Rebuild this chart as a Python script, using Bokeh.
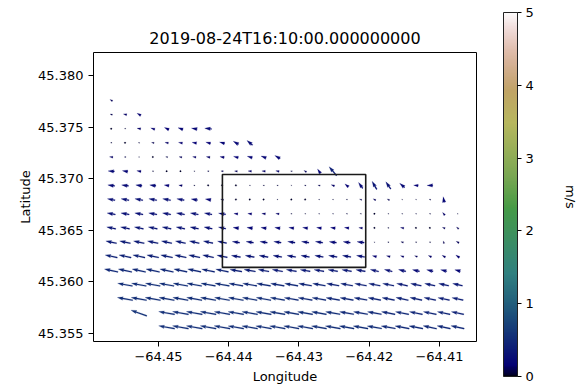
import numpy as np
from bokeh.plotting import figure
from bokeh.models import (Range1d, FixedTicker, CustomJSTickFormatter,
                          LinearColorMapper, ColumnDataSource, ColorBar, LinearAxis)
from bokeh.transform import linear_cmap
from bokeh.embed import file_html
from bokeh.resources import INLINE

FONT = "DejaVu Sans"

# ---------------- data ----------------
title_text = "2019-08-24T16:10:00.000000000"
x_label = "Longitude"
y_label = "Latitude"
cbar_label = "m/s"

x_ticks = [-64.45, -64.44, -64.43, -64.42, -64.41]
y_ticks = [45.355, 45.360, 45.365, 45.370, 45.375, 45.380]
cbar_ticks = [0, 1, 2, 3, 4, 5]
speed_min, speed_max = 0, 5

lons = [-64.45673, -64.45476, -64.45279, -64.45081, -64.44884, -64.44687,
        -64.44490, -64.44293, -64.44095, -64.43898, -64.43701, -64.43504,
        -64.43307, -64.43109, -64.42912, -64.42715, -64.42518, -64.42321,
        -64.42123, -64.41926, -64.41729, -64.41532, -64.41335, -64.41137,
        -64.40940, -64.40743]
lats = [45.37760, 45.37623, 45.37485, 45.37348, 45.37210, 45.37073,
        45.36935, 45.36798, 45.36660, 45.36523, 45.36385, 45.36248,
        45.36110, 45.35973, 45.35835, 45.35698, 45.35560]

# first grid column of each row
first_col = [0, 0, 0, 0, 0, 0, 0, 0, 0, 0, 0, 0, 0, 1, 1, 2, 4]

# current speed (m/s) per row, starting at first_col
speed_rows = [
    [0.10],
    [0.08, 0.12, 0.15],
    [0.03, 0.05, 0.13, 0.15, 0.17, 0.18, 0.20, 0.24],
    [0.05, 0.03, 0.05, 0.09, 0.12, 0.14, 0.16, 0.17, 0.18, 0.21, 0.25],
    [0.12, 0.06, 0.04, 0.03, 0.07, 0.10, 0.12, 0.13, 0.15, 0.17, 0.18, 0.19, 0.21],
    [0.22, 0.19, 0.15, 0.05, 0.03, 0.03, 0.04, 0.06, 0.08, 0.10, 0.12, 0.12,
     0.12, 0.06, 0.10, 0.18, 0.40],
    [0.24, 0.24, 0.22, 0.22, 0.17, 0.12, 0.05, 0.03, 0.02, 0.03, 0.04, 0.05,
     0.05, 0.04, 0.06, 0.08, 0.12, 0.16, 0.25, 0.32, 0.30, 0.22, 0.16, 0.20],
    [0.27, 0.28, 0.28, 0.28, 0.28, 0.26, 0.22, 0.20, 0.10, 0.03, 0.03, 0.03,
     0.04, 0.03, 0.03, 0.04, 0.04, 0.05, 0.08, 0.10, 0.09, 0.04, 0.04, 0.06, 0.20],
    [0.29, 0.29, 0.29, 0.29, 0.29, 0.29, 0.28, 0.27, 0.25, 0.14, 0.14, 0.13,
     0.12, 0.05, 0.04, 0.04, 0.04, 0.05, 0.05, 0.03, 0.04, 0.04, 0.04, 0.05, 0.12, 0.04],
    [0.32, 0.32, 0.32, 0.32, 0.32, 0.31, 0.30, 0.29, 0.26, 0.20, 0.20, 0.19,
     0.19, 0.18, 0.18, 0.17, 0.17, 0.16, 0.13, 0.03, 0.05, 0.12, 0.02, 0.03, 0.10, 0.10],
    [0.38, 0.38, 0.38, 0.38, 0.37, 0.36, 0.35, 0.34, 0.32, 0.26, 0.26, 0.26,
     0.26, 0.26, 0.26, 0.26, 0.25, 0.25, 0.25, 0.04, 0.05, 0.09, 0.05, 0.05, 0.09, 0.11],
    [0.43, 0.43, 0.43, 0.42, 0.42, 0.41, 0.40, 0.39, 0.37, 0.32, 0.32, 0.32,
     0.31, 0.31, 0.30, 0.30, 0.30, 0.30, 0.29, 0.15, 0.13, 0.12, 0.10, 0.12, 0.13, 0.15],
    [0.48, 0.48, 0.48, 0.48, 0.48, 0.47, 0.47, 0.46, 0.45, 0.42, 0.40, 0.38,
     0.37, 0.36, 0.35, 0.35, 0.34, 0.34, 0.33, 0.30, 0.28, 0.26, 0.25, 0.23, 0.22, 0.20],
    [0.52, 0.52, 0.52, 0.52, 0.52, 0.52, 0.51, 0.51, 0.50, 0.50, 0.49, 0.48,
     0.47, 0.46, 0.45, 0.44, 0.43, 0.42, 0.41, 0.40, 0.39, 0.38, 0.37, 0.36, 0.35],
    [0.54, 0.54, 0.54, 0.54, 0.54, 0.54, 0.54, 0.53, 0.53, 0.52, 0.52, 0.51,
     0.50, 0.50, 0.49, 0.48, 0.47, 0.46, 0.45, 0.44, 0.44, 0.43, 0.42, 0.41, 0.40],
    [0.58, None, 0.56, 0.56, 0.56, 0.56, 0.55, 0.55, 0.55, 0.54, 0.54, 0.53,
     0.53, 0.52, 0.51, 0.50, 0.50, 0.49, 0.48, 0.47, 0.46, 0.46, 0.45, 0.44],
    [0.56, 0.56, 0.56, 0.56, 0.56, 0.55, 0.55, 0.55, 0.55, 0.54, 0.54, 0.53,
     0.53, 0.52, 0.52, 0.51, 0.50, 0.50, 0.49, 0.48, 0.47, 0.47],
]

# direction the current flows towards (degrees, counter-clockwise from east)
dir_rows = [
    [150],
    [165, 165, 150],
    [180, 180, 170, 160, 155, 160, 170, 175],
    [180, 180, 170, 170, 170, 170, 170, 165, 165, 150, 140],
    [175, 180, 180, 180, 170, 170, 170, 170, 170, 165, 165, 160, 150],
    [175, 170, 170, 170, 180, 180, 180, 175, 175, 175, 175, 175, 170, 170, 150, 125, 130],
    [172, 172, 172, 172, 172, 172, 175, 175, 175, 175, 175, 175, 175, 170, 170,
     170, 160, 140, 125, 120, 125, 140, 175, 180],
    [170, 170, 170, 170, 170, 170, 170, 170, 170, 175, 175, 175, 175, 175, 175,
     175, 175, 175, 160, 150, 150, 160, 160, 160, 100],
    [170, 170, 170, 170, 170, 170, 170, 170, 170, 175, 175, 175, 175, 175, 175,
     175, 175, 175, 175, 170, 170, 170, 170, 170, 130, 160],
    [168, 168, 168, 168, 168, 168, 168, 168, 168, 172, 172, 172, 172, 172, 172,
     172, 172, 172, 172, 175, 175, 170, 175, 175, 160, 140],
    [168, 168, 168, 168, 168, 168, 168, 168, 168, 172, 172, 172, 172, 172, 172,
     172, 172, 172, 172, 170, 170, 165, 170, 170, 105, 150],
    [168, 168, 168, 168, 168, 168, 168, 168, 168, 170, 170, 170, 170, 170, 170,
     170, 170, 170, 170, 165, 165, 160, 160, 155, 150, 145],
    [168, 168, 168, 168, 168, 168, 168, 168, 168, 170, 170, 170, 170, 170, 170,
     170, 170, 170, 170, 166, 166, 166, 166, 166, 166, 166],
    [170, 170, 170, 170, 170, 170, 170, 170, 170, 170, 170, 170, 170, 170, 170,
     170, 170, 170, 169, 169, 168, 168, 168, 168, 168],
    [170, 170, 170, 170, 170, 170, 170, 170, 170, 170, 170, 170, 170, 170, 170,
     170, 170, 170, 169, 169, 168, 168, 168, 168, 168],
    [160, None, 170, 170, 170, 170, 170, 170, 170, 170, 170, 170, 170, 170, 170,
     170, 170, 170, 169, 169, 168, 168, 168, 168],
    [170, 170, 170, 170, 170, 170, 170, 170, 170, 170, 170, 170, 170, 170, 170,
     170, 170, 169, 169, 168, 168, 168],
]

# highlighted region
box_lon = [-64.4409, -64.4205]
box_lat = [45.3614, 45.3704]

# ---------------- colormap (gist_earth) ----------------
red_pts = [(0.0, 0.0), (0.2824, 0.1882), (0.4588, 0.2714), (0.5490, 0.4719),
           (0.6980, 0.7176), (0.7882, 0.7553), (1.0, 0.9922)]
green_pts = [(0.0, 0.0), (0.0275, 0.0), (0.1098, 0.1893), (0.1647, 0.3035),
             (0.2078, 0.3841), (0.2824, 0.5020), (0.5216, 0.6397), (0.6980, 0.7171),
             (0.7882, 0.6392), (0.7922, 0.6413), (0.8000, 0.6447), (0.8078, 0.6481),
             (0.8157, 0.6549), (0.8667, 0.6991), (0.8745, 0.7103), (0.8824, 0.7216),
             (0.8902, 0.7323), (0.8980, 0.7430), (0.9412, 0.8275), (0.9569, 0.8635),
             (0.9647, 0.8816), (0.9961, 0.9733), (1.0, 0.9843)]
blue_pts = [(0.0, 0.0), (0.0039, 0.1684), (0.0078, 0.2212), (0.0275, 0.4329),
            (0.0314, 0.4549), (0.2824, 0.5004), (0.4667, 0.2748), (0.5451, 0.3205),
            (0.7843, 0.3961), (0.8941, 0.6651), (1.0, 0.9843)]


def channel(points, n=256):
    t = np.linspace(0, 1, n)
    xs, ys = zip(*points)
    return np.interp(t, xs, ys)


_r, _g, _b = channel(red_pts), channel(green_pts), channel(blue_pts)
palette = ["#%02x%02x%02x" % (int(round(a * 255)), int(round(b * 255)), int(round(c * 255)))
           for a, b, c in zip(_r, _g, _b)]

# ---------------- geometry ----------------
X0, X1 = -64.45925, -64.40473
Y0, Y1 = 45.35422, 45.38223
FW, FH = 383, 289
lon_px = (X1 - X0) / FW
lat_px = (Y1 - Y0) / FH

K = 29.0          # pixels per m/s (arrow scale)
W = 1.15          # shaft width, px
HL, HAL, HHW = 5 * W, 4.5 * W, 1.5 * W


def arrow_shape(L):
    if L < W:
        a = np.linspace(0, 2 * np.pi, 7)[:-1]
        r0 = 0.75 * W
        return r0 * np.cos(a), r0 * np.sin(a)
    if L < HL:
        s = L / HL
        x = np.array([0, HL - HAL, 0, HL, 0, HL - HAL, 0]) * s
        y = np.array([-0.5 * W, -0.5 * W, -HHW, 0, HHW, 0.5 * W, 0.5 * W]) * s
    else:
        x = np.array([0, L - HAL, L - HL, L, L - HL, L - HAL, 0])
        y = np.array([-0.5 * W, -0.5 * W, -HHW, 0, HHW, 0.5 * W, 0.5 * W])
    return x - L / 2.0, y


xs_all, ys_all, spd_all = [], [], []
for ri, (c0, srow, drow) in enumerate(zip(first_col, speed_rows, dir_rows)):
    for j, (s, d) in enumerate(zip(srow, drow)):
        if s is None:
            continue
        lon, lat = lons[c0 + j], lats[ri]
        L = s * K
        x, y = arrow_shape(L)
        th = np.radians(d)
        xr = x * np.cos(th) - y * np.sin(th)
        yr = x * np.sin(th) + y * np.cos(th)
        xs_all.append(list(lon + xr * lon_px))
        ys_all.append(list(lat + yr * lat_px))
        spd_all.append(s)

src = ColumnDataSource(dict(xs=xs_all, ys=ys_all, speed=spd_all))

# ---------------- main figure ----------------
p = figure(frame_width=FW, frame_height=FH,
           x_range=Range1d(X0, X1), y_range=Range1d(Y0, Y1),
           output_backend="svg", toolbar_location=None,
           min_border_left=93, min_border_right=108, min_border_top=52, min_border_bottom=44,
           title=title_text)
p.grid.visible = False
p.background_fill_color = "white"
p.border_fill_color = "white"
p.outline_line_color = "black"
p.outline_line_width = 1
p.outline_line_alpha = 1

p.title.align = "center"
p.title.text_font = FONT
p.title.text_font_size = "16px"
p.title.text_font_style = "normal"
p.title.text_color = "black"
p.title.standoff = 9

cmap = linear_cmap("speed", palette, speed_min, speed_max)
p.patches(xs="xs", ys="ys", source=src, fill_color=cmap, line_color=cmap, line_width=0.2)

p.quad(left=box_lon[0], right=box_lon[1], bottom=box_lat[0], top=box_lat[1],
       fill_color=None, line_color="#1a1a1a", line_width=1.6)

for ax in p.axis:
    ax.axis_line_color = None
    ax.major_tick_out = 5
    ax.major_tick_in = 0
    ax.minor_tick_out = 0
    ax.minor_tick_in = 0
    ax.major_tick_line_color = "black"
    ax.major_label_text_font = FONT
    ax.major_label_text_font_size = "13px"
    ax.major_label_text_color = "black"
    ax.axis_label_text_font = FONT
    ax.axis_label_text_font_size = "13px"
    ax.axis_label_text_font_style = "normal"
    ax.axis_label_text_color = "black"

p.xaxis.ticker = FixedTicker(ticks=x_ticks)
p.xaxis.formatter = CustomJSTickFormatter(
    code="return (tick < 0 ? '\\u2212' : '') + Math.abs(tick).toFixed(2);")
p.xaxis.axis_label = x_label
p.xaxis.major_label_standoff = 5
p.xaxis.axis_label_standoff = 5

p.yaxis.ticker = FixedTicker(ticks=y_ticks)
p.yaxis.formatter = CustomJSTickFormatter(code="return tick.toFixed(3);")
p.yaxis.axis_label = y_label
p.yaxis.major_label_standoff = 5
p.yaxis.axis_label_standoff = 2

# ---------------- colour bar ----------------
mapper = LinearColorMapper(palette=palette, low=speed_min, high=speed_max)
color_bar = ColorBar(color_mapper=mapper, ticker=FixedTicker(ticks=cbar_ticks),
                     orientation="vertical", width=14, height=364,
                     location=(27, -35), padding=0, margin=0,
                     major_tick_in=0, major_tick_out=4,
                     major_tick_line_color="black", minor_tick_line_color=None,
                     major_label_text_font=FONT, major_label_text_font_size="13px",
                     major_label_text_color="black", label_standoff=4,
                     bar_line_color="#222222", bar_line_width=1,
                     border_line_color=None, background_fill_color=None)
p.add_layout(color_bar, "right")

# axis that only carries the colour bar's label
unit_axis = LinearAxis(axis_label=cbar_label, ticker=FixedTicker(ticks=[]),
                       axis_line_color=None, major_tick_line_color=None,
                       minor_tick_line_color=None, major_label_text_font_size="0px",
                       axis_label_text_font=FONT, axis_label_text_font_size="13px",
                       axis_label_text_font_style="normal", axis_label_text_color="black",
                       axis_label_standoff=26)
p.add_layout(unit_axis, "right")

open("out.html", "w").write(file_html(p, INLINE))
